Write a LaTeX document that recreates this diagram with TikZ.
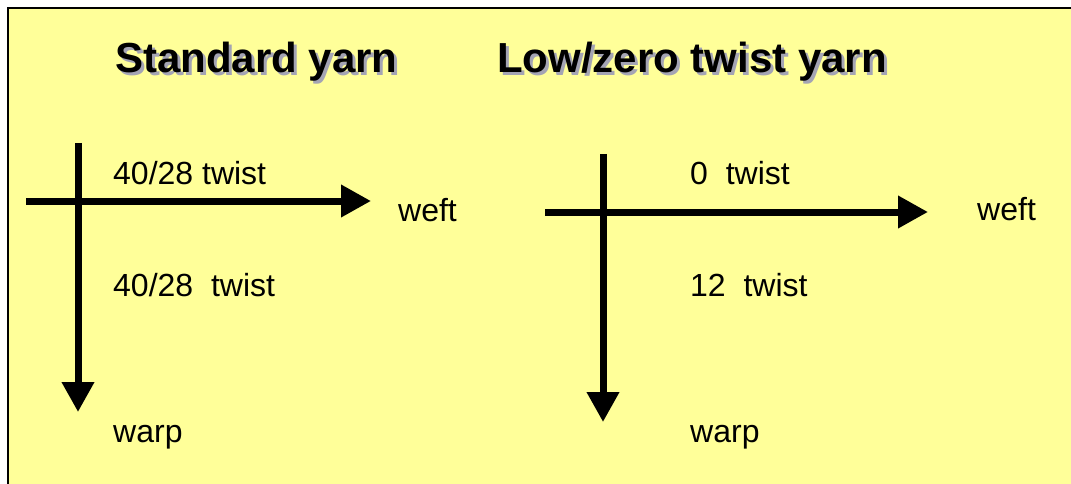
\documentclass[tikz,border=0pt]{standalone}
\usepackage{fontspec}
\setmainfont{Liberation Sans}
\usetikzlibrary{arrows.meta}
\definecolor{paleyellow}{HTML}{FFFF99}
\definecolor{shadowgrey}{HTML}{A4A4B4}
\newcommand{\shadowtext}[1]{\rlap{\kern3pt\raisebox{-3pt}{\textcolor{shadowgrey}{#1}}}#1}
\begin{document}
\begin{tikzpicture}[x=1pt,y=-1pt,
    lbl/.style={inner sep=0pt,anchor=base west,font=\fontsize{32}{38}\selectfont},
    title/.style={inner sep=0pt,anchor=base west,font=\fontsize{42}{50}\selectfont\bfseries},
    yarnarrow/.style={line width=7pt,-{Triangle[length=30pt,width=31pt]}}]
  \useasboundingbox (0,0) rectangle (1071,484);
  \clip (0,0) rectangle (1071,484);
  \fill[white] (0,0) rectangle (1071,484);
  \filldraw[fill=paleyellow,line width=2.5pt] (8,8) rectangle (1090,500);
  % titles
  \node[title] (stdtitle) at (115,73) {\shadowtext{Standard yarn}};
  \node[title] (lowtitle) at (497,73) {\shadowtext{Low/zero twist yarn}};
  % standard yarn
  \coordinate (sweftstart) at (26,201);
  \coordinate (sweftend) at (371,201);
  \coordinate (swarpstart) at (78,143);
  \coordinate (swarpend) at (78,412);
  \draw[yarnarrow] (swarpstart) -- (swarpend);
  \draw[yarnarrow] (sweftstart) -- (sweftend);
  \node[lbl] (sweft) at (113,184) {40/28 twist};
  \node[lbl] (swefttxt) at (398,221) {weft};
  \node[lbl] (swarp) at (113,296) {40/28\ \ twist};
  \node[lbl] (swarptxt) at (113,442) {warp};
  % low/zero twist yarn
  \coordinate (lweftstart) at (545,212);
  \coordinate (lweftend) at (928,212);
  \coordinate (lwarpstart) at (603,154);
  \coordinate (lwarpend) at (603,422);
  \draw[yarnarrow] (lwarpstart) -- (lwarpend);
  \draw[yarnarrow] (lweftstart) -- (lweftend);
  \node[lbl] (lweft) at (690,185) {0\ \ twist};
  \node[lbl] (lwefttxt) at (977,220) {weft};
  \node[lbl] (lwarp) at (690,296) {12\ \ twist};
  \node[lbl] (lwarptxt) at (690,442) {warp};
\end{tikzpicture}
\end{document}
